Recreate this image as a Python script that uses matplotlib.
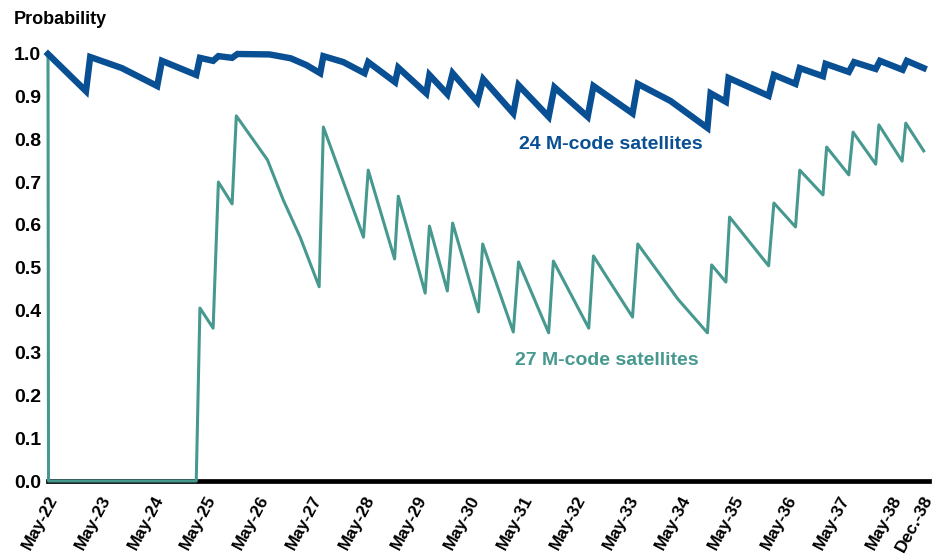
import matplotlib
matplotlib.use('Agg')
import matplotlib.pyplot as plt
import matplotlib.transforms as mtransforms

# years since May-2022
blue_t = [0, 0.72, 0.80, 1.4, 2.07, 2.16, 2.81, 2.88, 3.13, 3.23,
          3.49, 3.59, 4.2, 4.6, 4.9, 5.16, 5.22, 5.6, 6.0, 6.07,
          6.58, 6.64, 7.17, 7.23, 7.57, 7.67, 8.14, 8.25, 8.82, 8.92,
          9.49, 9.60, 10.23, 10.34, 11.08, 11.18, 11.8, 12.5, 12.56, 12.85,
          12.9, 13.66, 13.76, 14.17, 14.25, 14.69, 14.74, 15.18, 15.28, 15.69,
          15.77, 16.2, 16.28, 16.6]
blue_v = [1.0, 0.913, 0.993, 0.967, 0.925, 0.984, 0.951, 0.991, 0.984, 0.995,
          0.991, 1.0, 0.999, 0.99, 0.974, 0.955, 0.995, 0.981, 0.955, 0.981,
          0.934, 0.968, 0.908, 0.951, 0.906, 0.955, 0.888, 0.941, 0.861, 0.927,
          0.853, 0.922, 0.853, 0.925, 0.861, 0.930, 0.89, 0.827, 0.908, 0.888,
          0.944, 0.902, 0.951, 0.930, 0.967, 0.948, 0.977, 0.958, 0.981, 0.965,
          0.984, 0.963, 0.984, 0.967]

teal_t = [0, 0.01, 2.81, 2.88, 3.13, 3.23, 3.49, 3.57, 4.16, 4.46,
          4.78, 5.14, 5.22, 5.98, 6.07, 6.57, 6.64, 7.15, 7.23, 7.57,
          7.67, 8.16, 8.24, 8.82, 8.92, 9.49, 9.58, 10.25, 10.34, 10.57,
          11.08, 11.18, 11.94, 12.5, 12.58, 12.85, 12.92, 13.66, 13.76, 14.17,
          14.25, 14.69, 14.76, 15.18, 15.26, 15.69, 15.75, 16.19, 16.26, 16.6]
teal_v = [1.0, 0.0, 0.0, 0.405, 0.358, 0.70, 0.649, 0.855, 0.752, 0.658,
          0.571, 0.455, 0.829, 0.571, 0.728, 0.520, 0.667, 0.440, 0.597, 0.445,
          0.604, 0.396, 0.555, 0.349, 0.513, 0.347, 0.515, 0.358, 0.527, 0.482,
          0.384, 0.555, 0.426, 0.347, 0.506, 0.466, 0.618, 0.504, 0.651, 0.595,
          0.728, 0.670, 0.782, 0.717, 0.817, 0.742, 0.834, 0.749, 0.838, 0.773]

tick_pos = list(range(17)) + [16.58]
tick_labels = ['May-%d' % (22 + i) for i in range(17)] + ['Dec.-38']
y_ticks = [i / 10 for i in range(11)]

BLUE = '#084F93'
TEAL = '#47998F'

plt.rcParams['font.family'] = ['Liberation Sans', 'DejaVu Sans']

fig = plt.figure(figsize=(9.49, 5.59), dpi=100)
ax = fig.add_axes([48 / 949, 1 - 481 / 559, (929 - 48) / 949, (481 - 54) / 559])

ax.axhline(0, color='black', lw=3.4, zorder=1, clip_on=False)
ax.plot(teal_t, teal_v, color=TEAL, lw=2.2, zorder=3, clip_on=False)
ax.plot(blue_t, blue_v, color=BLUE, lw=4.6, zorder=4, clip_on=False,
        solid_joinstyle='miter')

ax.set_xlim(0, 16.7)
ax.set_ylim(0, 1.0)
for s in ax.spines.values():
    s.set_visible(False)

ax.set_yticks(y_ticks)
ax.set_yticklabels(['%.1f' % v for v in y_ticks], fontsize=14, fontweight='bold')
ax.set_xticks(tick_pos)
ax.set_xticklabels(tick_labels, fontsize=12.5, fontweight='bold', rotation=62,
                   ha='right', va='center', rotation_mode='anchor')
ax.tick_params(axis='both', length=0)
ax.tick_params(axis='x', pad=11)
ax.tick_params(axis='y', pad=5)
off = mtransforms.ScaledTranslation(6 / 100, 0, fig.dpi_scale_trans)
for lab in ax.get_xticklabels():
    lab.set_transform(lab.get_transform() + off)

ax.text(10.67, 0.787, '24 M-code satellites', color=BLUE, fontsize=14,
        fontweight='bold', ha='center', va='center')
ax.text(10.6, 0.283, '27 M-code satellites', color=TEAL, fontsize=14,
        fontweight='bold', ha='center', va='center')

fig.text(14 / 949, 1 - 19 / 559, 'Probability', fontsize=13, fontweight='bold',
         ha='left', va='center')

fig.savefig('out.png', dpi=100)
